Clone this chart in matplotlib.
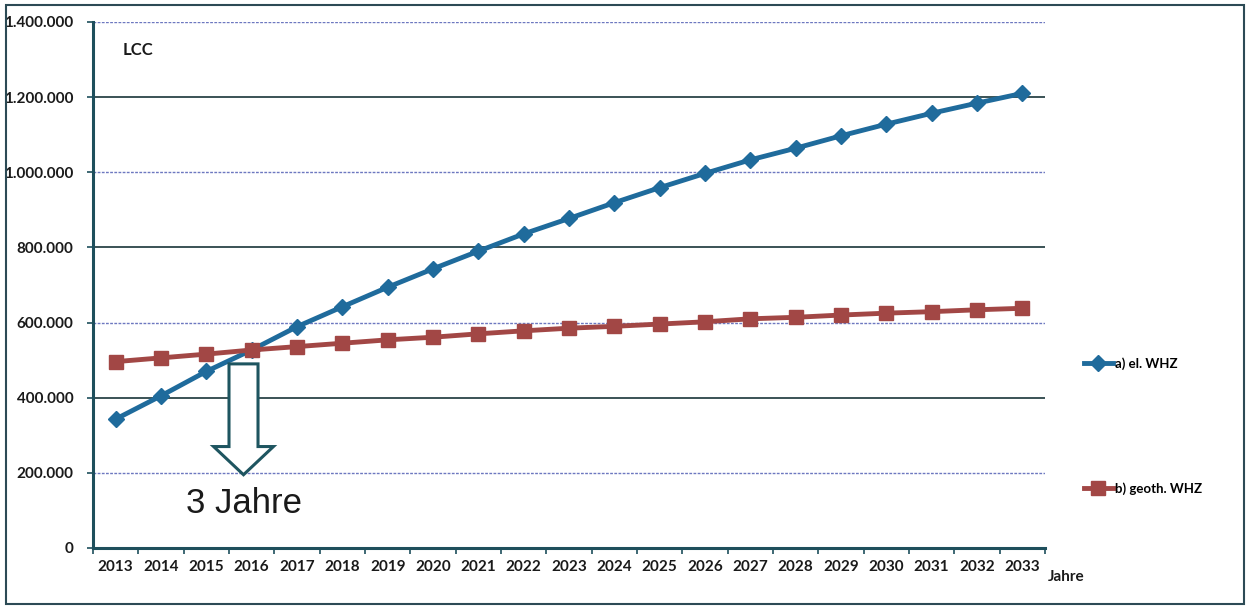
import matplotlib.pyplot as plt
import matplotlib.patches as mpatches
import numpy as np

years = [str(y) for y in range(2013, 2034)]
el_whz = [343000, 405000, 470000, 527000, 589000, 642000, 694000, 743000, 790000, 836000, 877000,
          919000, 959000, 997000, 1033000, 1064000, 1097000, 1128000, 1157000, 1184000, 1210000]
geo_whz = [496000, 506000, 516000, 527000, 536000, 545000, 554000, 561000, 570000, 578000, 585000,
           590000, 596000, 602000, 610000, 614000, 620000, 625000, 629000, 634000, 638000]
yticks = [0, 200000, 400000, 600000, 800000, 1000000, 1200000, 1400000]
ylabels = ['0', '200.000', '400.000', '600.000', '800.000', '1.000.000', '1.200.000', '1.400.000']

blue = '#1f6b9c'
red = '#a24745'
axcol = '#1e4f5c'

fig = plt.figure(figsize=(12.5, 6.07), dpi=100)
ax = fig.add_axes([0.0744, 0.0972, 0.7616, 0.8666])

x = np.arange(len(years))
ax.plot(x, el_whz, color=blue, lw=3.5, marker='D', ms=8, label='a) el. WHZ', zorder=3)
ax.plot(x, geo_whz, color=red, lw=3.5, marker='s', ms=10, label='b) geoth. WHZ', zorder=3)

ax.set_xlim(-0.5, len(years) - 0.5)
ax.set_ylim(0, 1400000)

# gridlines, alternating dark solid and faint blue dotted like the scan
for v in yticks[1:]:
    if v in (400000, 800000, 1200000):
        ax.axhline(v, color='#2b4448', lw=1.3, zorder=1)
    else:
        ax.axhline(v, color='#6d78c0', lw=1.0, ls=(0, (2, 1)), zorder=1)

ax.set_yticks(yticks)
ax.set_yticklabels(ylabels)
ax.set_xticks(x)
ax.set_xticklabels(years)
ax.set_xticks(np.arange(-0.5, len(years)), minor=True)
ax.tick_params(axis='x', which='major', length=0, pad=9)
ax.tick_params(axis='x', which='minor', length=4, color=axcol, width=1.2)
ax.tick_params(axis='y', length=4, color=axcol, width=1.2, pad=10)
for lab in ax.get_xticklabels() + ax.get_yticklabels():
    lab.set_fontfamily('Lato')
    lab.set_fontweight('bold')
    lab.set_fontsize(11)
    lab.set_color('#1a1a1a')

for s in ('top', 'right'):
    ax.spines[s].set_visible(False)
for s in ('left', 'bottom'):
    ax.spines[s].set_color(axcol)
    ax.spines[s].set_linewidth(2.2)

ax.text(0.031, 0.962, 'LCC', transform=ax.transAxes, fontsize=12, fontweight='bold',
        family='Lato', color='#1a1a1a', va='top')

# hollow block arrow under the crossing point
cx = 2.82
shaft_w = 0.32
head_w = 0.66
top = 490000
head_top = 270000
tip = 195000
poly = mpatches.Polygon([(cx - shaft_w, top), (cx + shaft_w, top), (cx + shaft_w, head_top),
                         (cx + head_w, head_top), (cx, tip), (cx - head_w, head_top),
                         (cx - shaft_w, head_top)], closed=True,
                        facecolor='white', edgecolor='#1e5560', lw=2.2, zorder=4)
ax.add_patch(poly)
ax.text(cx, 118000, '3 Jahre', ha='center', va='center', fontsize=25,
        family='Liberation Sans', color='#1a1a1a')

leg = ax.legend(loc='upper left', bbox_to_anchor=(1.028, 0.385), frameon=False,
                labelspacing=8.5, handlelength=2.2, handletextpad=0.2,
                prop={'family': 'Lato', 'weight': 'bold', 'size': 9.5})

fig.text(0.838, 0.05, 'Jahre', fontsize=11, family='Lato', fontweight='bold',
         color='#1a1a1a', va='center')

# scan frame around the picture
frame = mpatches.Rectangle((0.005, 0.005), 0.99, 0.987, transform=fig.transFigure,
                           fill=False, edgecolor='#2c4a55', lw=1.5)
fig.patches.append(frame)

fig.savefig('out.png', dpi=100)
